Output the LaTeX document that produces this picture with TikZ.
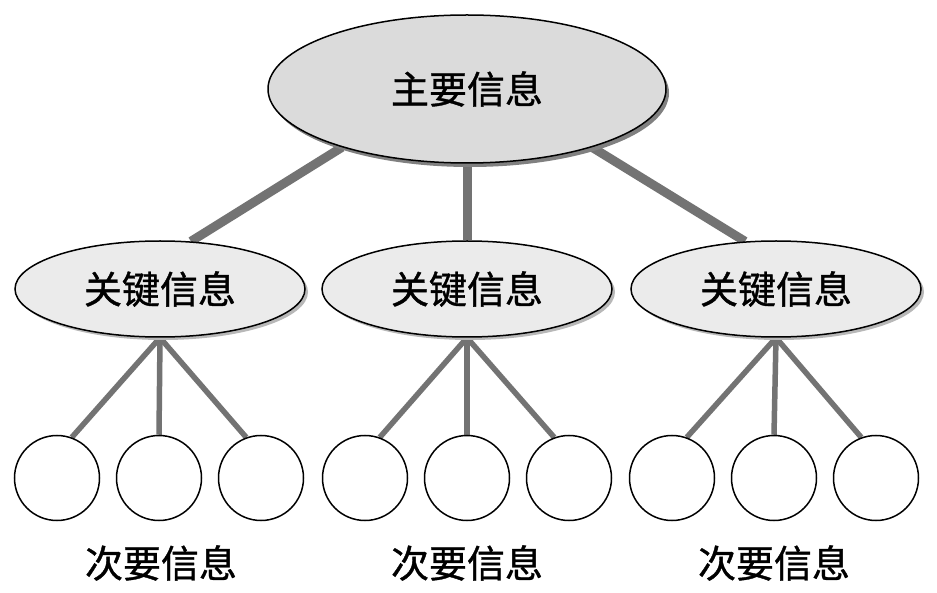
\documentclass[tikz,border=0pt]{standalone}
\usepackage{fontspec}
\newfontfamily\cjk[FakeBold=1]{Noto Sans CJK SC}
\usetikzlibrary{shapes,shadows,backgrounds,positioning}

\begin{document}
\begin{tikzpicture}[x=1pt, y=-1pt,
    mainnode/.style={ellipse, draw, line width=1.5pt, fill=gray!28, minimum width=398pt, minimum height=148pt, inner sep=0pt, font=\cjk\fontsize{38}{42}\selectfont, drop shadow={shadow xshift=3pt, shadow yshift=-4pt, fill=black!50, opacity=1}},
    keynode/.style={ellipse, draw, line width=1.5pt, fill=gray!16, minimum width=290pt, minimum height=96pt, inner sep=0pt, font=\cjk\fontsize{38}{42}\selectfont, drop shadow={shadow xshift=3pt, shadow yshift=-3pt, fill=black!28, opacity=1}},
    subnode/.style={circle, draw, line width=1.5pt, fill=white, minimum size=85pt, inner sep=0pt},
    sublabel/.style={inner sep=0pt, font=\cjk\fontsize{38}{42}\selectfont},
    thickline/.style={draw=black!55, line width=9pt},
    thinline/.style={draw=black!55, line width=5.5pt}]

    \useasboundingbox (0,0) rectangle (937,593);

    \node[mainnode] (main) at (467,89) {主要信息};

    \node[keynode] (keyL) at (160,289) {关键信息};
    \node[keynode] (keyM) at (467,289) {关键信息};
    \node[keynode] (keyR) at (776,289) {关键信息};

    \node[subnode] (cL1) at (57,478) {};
    \node[subnode] (cL2) at (159,478) {};
    \node[subnode] (cL3) at (261,478) {};
    \node[subnode] (cM1) at (365,478) {};
    \node[subnode] (cM2) at (467,478) {};
    \node[subnode] (cM3) at (569,478) {};
    \node[subnode] (cR1) at (672,478) {};
    \node[subnode] (cR2) at (774,478) {};
    \node[subnode] (cR3) at (876,478) {};

    \node[sublabel] (labL) at (161,563) {次要信息};
    \node[sublabel] (labM) at (467,563) {次要信息};
    \node[sublabel] (labR) at (774,563) {次要信息};

    \begin{scope}[on background layer]
    \fill[white] (0,0) rectangle (937,593);
    \draw[thickline] (main.205) -- (keyL.57);
    \draw[thickline] (main.south) -- (keyM.north);
    \draw[thickline] (main.335) -- (keyR.123);

    \draw[thinline] (keyL.south) -- (cL1.70);
    \draw[thinline] (keyL.south) -- (cL2.north);
    \draw[thinline] (keyL.south) -- (cL3.110);
    \draw[thinline] (keyM.south) -- (cM1.70);
    \draw[thinline] (keyM.south) -- (cM2.north);
    \draw[thinline] (keyM.south) -- (cM3.110);
    \draw[thinline] (keyR.south) -- (cR1.70);
    \draw[thinline] (keyR.south) -- (cR2.north);
    \draw[thinline] (keyR.south) -- (cR3.110);
    \end{scope}
\end{tikzpicture}
\end{document}
